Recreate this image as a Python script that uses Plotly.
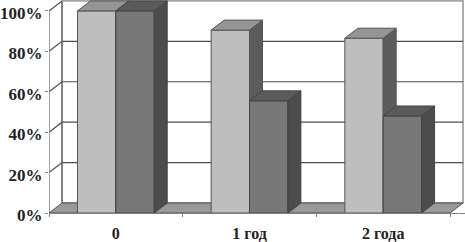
import plotly.graph_objects as go

categories = ["0", "1 год", "2 года"]
light_values = [100, 90.5, 86.5]
dark_values = [100, 55.5, 48]
y_ticks = [0, 20, 40, 60, 80, 100]
y_labels = ["0%", "20%", "40%", "60%", "80%", "100%"]

DX, DY = 0.0973, 4.95      # oblique depth of the pseudo-3D projection, in axis units
BAR = 0.287
XL, XR = -0.5, 2.5
FONT = dict(family="Liberation Serif", size=16, color="#222222")
x_pos = list(range(len(categories)))


def poly(xs, ys, fill, line, axis=("x", "y"), width=1):
    return go.Scatter(x=xs, y=ys, mode="lines", fill="toself", fillcolor=fill,
                      line=dict(color=line, width=width), hoverinfo="skip",
                      showlegend=False, xaxis=axis[0], yaxis=axis[1])


def line(xs, ys, color, width=1.2):
    return go.Scatter(x=xs, y=ys, mode="lines", line=dict(color=color, width=width),
                      hoverinfo="skip", showlegend=False)


fig = go.Figure()

# back wall, left wall, floor
fig.add_trace(poly([XL + DX, XR + DX, XR + DX, XL + DX, XL + DX],
                   [DY, DY, 100 + DY, 100 + DY, DY], "#ffffff", "#858585", width=1.3))
for t in y_ticks[1:-1]:
    fig.add_trace(line([XL, XL + DX, XR + DX], [t, t + DY, t + DY], "#4d4d4d"))
fig.add_trace(line([XL, XL + DX], [100, 100 + DY], "#4d4d4d"))
fig.add_trace(line([XL + DX, XL + DX], [DY, 100 + DY], "#666666"))
fig.add_trace(line([XL, XL], [0, 100], "#808080", 1.5))
fig.add_trace(poly([XL, XL + DX, XR + DX, XR, XL], [0, DY, DY, 0, 0], "#999999", "#555555"))


def add_series(values, offset, front, side, top, edge, ax):
    xa, ya = ax
    fig.add_trace(go.Bar(x=x_pos, y=values, width=BAR, offset=offset,
                         marker=dict(color=front, line=dict(color=edge, width=1)),
                         hoverinfo="skip", showlegend=False, xaxis=xa, yaxis=ya))
    for c, v in zip(x_pos, values):
        x0, x1 = c + offset, c + offset + BAR
        fig.add_trace(poly([x1, x1 + DX, x1 + DX, x1, x1], [0, DY, v + DY, v, 0], side, edge, ax))
        fig.add_trace(poly([x0, x1, x1 + DX, x0 + DX, x0], [v, v, v + DY, v + DY, v], top, edge, ax))


add_series(light_values, -BAR, "#bebebe", "#5c5c5c", "#959595", "#555555", ("x2", "y2"))
add_series(dark_values, 0, "#787878", "#4c4c4c", "#5b5b5b", "#444444", ("x3", "y3"))

x_range = [-0.5, 2.612]
y_range = [0, 105.4]
hidden = dict(visible=False, fixedrange=True)
fig.update_layout(
    width=465, height=242,
    margin=dict(l=49, r=0, t=0, b=29, pad=0, autoexpand=False),
    paper_bgcolor="white", plot_bgcolor="white",
    showlegend=False,
    font=FONT,
    xaxis=dict(range=x_range, tickvals=x_pos, ticktext=categories, ticks="", showgrid=False,
               zeroline=False, showline=True, linecolor="#808080", linewidth=1,
               automargin=False,
               tickfont=dict(family="Liberation Serif", size=16, color="#222222", weight="bold"),
               ticklabelstandoff=6,
               minor=dict(tickvals=[-0.5, 0.5, 1.5, 2.5], ticks="outside", ticklen=3,
                          tickcolor="#808080", tickwidth=1, showgrid=False)),
    yaxis=dict(range=y_range, tickvals=y_ticks, ticktext=y_labels, ticks="outside", ticklen=3,
               tickcolor="#808080", showgrid=False, zeroline=False, showline=False,
               automargin=False,
               tickfont=dict(family="Liberation Serif", size=17, color="#222222", weight="bold"),
               ticklabelstandoff=-1, ticklabelshift=2),
    xaxis2=dict(range=x_range, overlaying="x", **hidden),
    yaxis2=dict(range=y_range, overlaying="y", **hidden),
    xaxis3=dict(range=x_range, overlaying="x", **hidden),
    yaxis3=dict(range=y_range, overlaying="y", **hidden),
)

fig.write_html("out.html", config=dict(displayModeBar=False),
               post_script="document.body.style.margin='0';")
